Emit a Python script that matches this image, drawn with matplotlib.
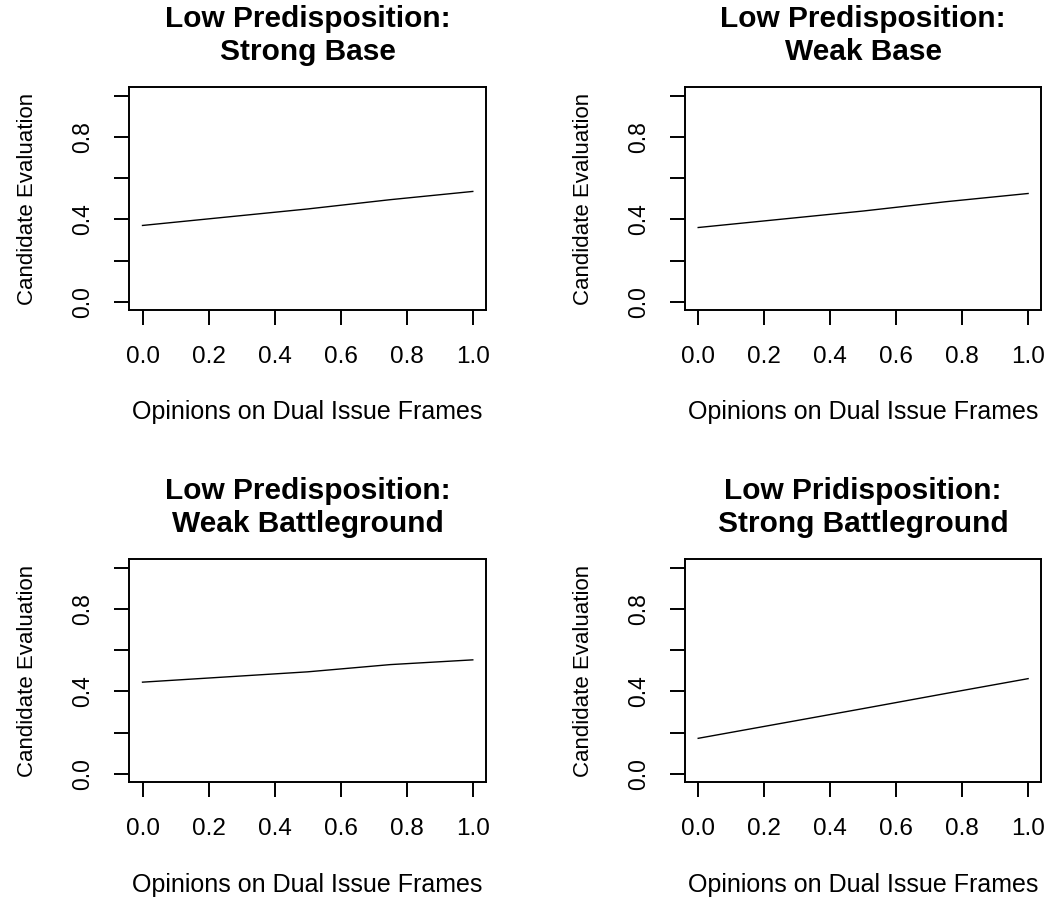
import matplotlib
matplotlib.use("Agg")
import matplotlib.pyplot as plt

plt.rcParams['font.family'] = ['Liberation Sans', 'DejaVu Sans']

titles = [
    "Low Predisposition:\nStrong Base",
    "Low Predisposition:\nWeak Base",
    "Low Predisposition:\nWeak Battleground",
    "Low Pridisposition:\nStrong Battleground",
]
x_vals = [0.0, 0.25, 0.5, 0.75, 1.0]
strong_base = [0.37, 0.41, 0.45, 0.495, 0.535]
weak_base = [0.36, 0.40, 0.44, 0.485, 0.525]
weak_battleground = [0.445, 0.47, 0.495, 0.53, 0.553]
strong_battleground = [0.173, 0.245, 0.317, 0.39, 0.462]
series = [strong_base, weak_base, weak_battleground, strong_battleground]

x_ticks = [0.0, 0.2, 0.4, 0.6, 0.8, 1.0]
x_ticklabels = ["0.0", "0.2", "0.4", "0.6", "0.8", "1.0"]
y_ticks = [0.0, 0.2, 0.4, 0.6, 0.8, 1.0]
y_ticklabels = ["0.0", "", "0.4", "", "0.8", ""]
xlabel = "Opinions on Dual Issue Frames"
ylabel = "Candidate Evaluation"

W, H = 1056, 899
fig = plt.figure(figsize=(W / 100, H / 100), dpi=100)

# axes boxes in pixels: (left, top, right, bottom)
boxes = [
    (129.3, 87.3, 486.0, 310.0),
    (685.0, 87.3, 1041.3, 310.0),
    (129.3, 559.3, 486.0, 782.3),
    (685.0, 559.3, 1041.3, 782.3),
]

for i, (l, t, r, b) in enumerate(boxes):
    ax = fig.add_axes([l / W, 1 - b / H, (r - l) / W, (b - t) / H])
    ax.plot(x_vals, series[i], color='black', lw=1.0)
    ax.set_xlim(-0.04, 1.04)
    ax.set_ylim(-0.04, 1.04)
    ax.set_xticks(x_ticks)
    ax.set_xticklabels(x_ticklabels, fontsize=17.5)
    ax.set_yticks(y_ticks)
    ax.set_yticklabels(y_ticklabels, rotation=90, va='center', fontsize=16.5)
    for s in ax.spines.values():
        s.set_linewidth(1.4)
    ax.tick_params(axis='both', direction='out', length=11, width=1.4,
                   color='black')
    ax.tick_params(axis='x', pad=15)
    ax.tick_params(axis='y', pad=14)
    ax.set_xlabel(xlabel, fontsize=18)
    ax.set_ylabel(ylabel, fontsize=16)
    ax.xaxis.set_label_coords(0.5, -0.405)
    ax.yaxis.set_label_coords(-0.255, 0.5)
    ax.set_title(titles[i], fontsize=21.5, fontweight='bold', pad=20,
                 linespacing=1.2)

fig.savefig("out.png", dpi=100)
